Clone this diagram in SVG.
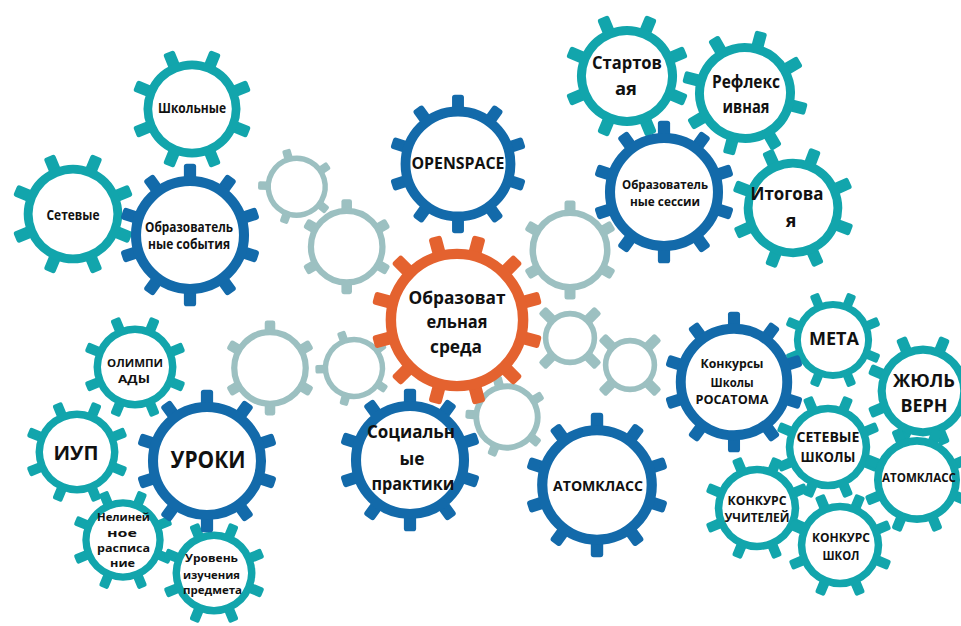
<svg xmlns="http://www.w3.org/2000/svg" xmlns:xlink="http://www.w3.org/1999/xlink" width="961" height="626" viewBox="0 0 961 626">
<style>
.t{font-family:"Open Sans","Liberation Sans","DejaVu Sans",sans-serif;font-weight:700;fill:#111;text-anchor:middle}
</style>
<defs>
<rect id="tB" x="-8.5" y="-99" width="17" height="30" rx="4"/>
<rect id="tT" x="-9.5" y="-99" width="19" height="30" rx="4"/>
<rect id="tG" x="-11" y="-99" width="22" height="32" rx="5"/>
<rect id="tG4" x="-13" y="-99" width="26" height="42" rx="6"/>
<rect id="tO" x="-7.5" y="-99" width="15" height="28" rx="3.5"/>
<g id="gBlue">
 <g fill="#136AAA">
  <use href="#tB"/><use href="#tB" transform="rotate(36)"/><use href="#tB" transform="rotate(72)"/><use href="#tB" transform="rotate(108)"/><use href="#tB" transform="rotate(144)"/>
  <use href="#tB" transform="rotate(180)"/><use href="#tB" transform="rotate(216)"/><use href="#tB" transform="rotate(252)"/><use href="#tB" transform="rotate(288)"/><use href="#tB" transform="rotate(324)"/>
 </g>
 <circle r="75" fill="#fff" stroke="#136AAA" stroke-width="14"/>
</g>
<g id="gTeal">
 <g fill="#12A5AC">
  <use href="#tT"/><use href="#tT" transform="rotate(45)"/><use href="#tT" transform="rotate(90)"/><use href="#tT" transform="rotate(135)"/>
  <use href="#tT" transform="rotate(180)"/><use href="#tT" transform="rotate(225)"/><use href="#tT" transform="rotate(270)"/><use href="#tT" transform="rotate(315)"/>
 </g>
 <circle r="71" fill="#fff" stroke="#12A5AC" stroke-width="14"/>
</g>
<g id="gGray6">
 <g fill="#9CC0C1">
  <use href="#tG"/><use href="#tG" transform="rotate(60)"/><use href="#tG" transform="rotate(120)"/><use href="#tG" transform="rotate(180)"/><use href="#tG" transform="rotate(240)"/><use href="#tG" transform="rotate(300)"/>
 </g>
 <circle r="74.5" fill="#fff" stroke="#9CC0C1" stroke-width="13"/>
</g>
<g id="gGray5">
 <g fill="#9CC0C1">
  <use href="#tG"/><use href="#tG" transform="rotate(72)"/><use href="#tG" transform="rotate(144)"/><use href="#tG" transform="rotate(216)"/><use href="#tG" transform="rotate(288)"/>
 </g>
 <circle r="73" fill="#fff" stroke="#9CC0C1" stroke-width="14"/>
</g>
<g id="gGray4">
 <g fill="#9CC0C1">
  <use href="#tG4" transform="rotate(45)"/><use href="#tG4" transform="rotate(135)"/><use href="#tG4" transform="rotate(225)"/><use href="#tG4" transform="rotate(315)"/>
 </g>
 <circle r="61" fill="#fff" stroke="#9CC0C1" stroke-width="14"/>
</g>
<g id="gOrange">
 <g fill="#E4622F">
  <use href="#tO" transform="rotate(15)"/><use href="#tO" transform="rotate(45)"/><use href="#tO" transform="rotate(75)"/><use href="#tO" transform="rotate(105)"/>
  <use href="#tO" transform="rotate(135)"/><use href="#tO" transform="rotate(165)"/><use href="#tO" transform="rotate(195)"/><use href="#tO" transform="rotate(225)"/>
  <use href="#tO" transform="rotate(255)"/><use href="#tO" transform="rotate(285)"/><use href="#tO" transform="rotate(315)"/><use href="#tO" transform="rotate(345)"/>
 </g>
 <circle r="76" fill="#fff" stroke="#E4622F" stroke-width="12"/>
</g>
</defs>

<g id="connectors"></g>

<!-- gray idle gears -->
<g id="gray1"><use href="#gGray5" transform="translate(296.7 186.7) rotate(-16) scale(0.39)"/></g>
<g id="gray2"><use href="#gGray6" transform="translate(346.7 246.7) scale(0.48)"/></g>
<g id="gray3"><use href="#gGray6" transform="translate(570 250) scale(0.50)"/></g>
<g id="gray4"><use href="#gGray4" transform="translate(570 338) scale(0.40)"/></g>
<g id="gray5"><use href="#gGray4" transform="translate(630 365) scale(0.40)"/></g>
<g id="gray6"><use href="#gGray6" transform="translate(270 368) scale(0.48)"/></g>
<g id="gray7"><use href="#gGray5" transform="translate(354 368) rotate(-20) scale(0.39)"/></g>
<g id="gray8"><use href="#gGray5" transform="translate(507 417) rotate(-14) scale(0.42)"/></g>

<!-- teal gears -->
<g id="shkolnye"><use href="#gTeal" transform="translate(192 109) rotate(22.5) scale(0.62)"/>
 <text class="t" x="192" y="113" font-size="14" textLength="68" lengthAdjust="spacingAndGlyphs">Школьные</text></g>
<g id="setevye"><use href="#gTeal" transform="translate(73 214) rotate(22.5) scale(0.63)"/>
 <text class="t" x="73" y="220" font-size="13.5" textLength="53" lengthAdjust="spacingAndGlyphs">Сетевые</text></g>
<g id="startovaya"><use href="#gTeal" transform="translate(627 76) rotate(22.5) scale(0.64)"/>
 <text class="t" x="627" y="69" font-size="18" textLength="70" lengthAdjust="spacingAndGlyphs">Стартов</text>
 <text class="t" x="626" y="95" font-size="18" textLength="22" lengthAdjust="spacingAndGlyphs">ая</text></g>
<g id="refleksivnaya"><use href="#gTeal" transform="translate(745 93) rotate(15) scale(0.64)"/>
 <text class="t" x="746" y="88" font-size="18" textLength="68" lengthAdjust="spacingAndGlyphs">Рефлекс</text>
 <text class="t" x="746" y="113" font-size="18" textLength="47" lengthAdjust="spacingAndGlyphs">ивная</text></g>
<g id="itogovaya"><use href="#gTeal" transform="translate(793 208) rotate(21) scale(0.63)"/>
 <text class="t" x="787" y="200" font-size="18" textLength="73" lengthAdjust="spacingAndGlyphs">Итогова</text>
 <text class="t" x="791" y="227" font-size="18">я</text></g>
<g id="meta"><use href="#gTeal" transform="translate(833 340) rotate(22.5) scale(0.50)"/>
 <text class="t" x="834" y="344.5" font-size="18" textLength="50" lengthAdjust="spacingAndGlyphs">МЕТА</text></g>
<g id="julverne"><use href="#gTeal" transform="translate(923 391) rotate(22.5) scale(0.58)"/>
 <text class="t" x="924" y="386.5" font-size="18" textLength="62" lengthAdjust="spacingAndGlyphs">ЖЮЛЬ</text>
 <text class="t" x="924" y="411.5" font-size="18" textLength="47" lengthAdjust="spacingAndGlyphs">ВЕРН</text></g>
<g id="setevye-shkoly"><use href="#gTeal" transform="translate(828 447) rotate(22.5) scale(0.54)"/>
 <text class="t" x="828" y="442" font-size="14" textLength="63" lengthAdjust="spacingAndGlyphs">СЕТЕВЫЕ</text>
 <text class="t" x="828" y="462" font-size="14" textLength="55" lengthAdjust="spacingAndGlyphs">ШКОЛЫ</text></g>
<g id="atomklass-teal"><use href="#gTeal" transform="translate(917 480) rotate(22.5) scale(0.55)"/>
 <text class="t" x="882" y="482" font-size="13" style="text-anchor:start" textLength="74" lengthAdjust="spacingAndGlyphs">АТОМКЛАСС</text></g>
<g id="konkurs-uchiteley"><use href="#gTeal" transform="translate(757 508) rotate(22.5) scale(0.54)"/>
 <text class="t" x="757" y="504.7" font-size="13" textLength="59" lengthAdjust="spacingAndGlyphs">КОНКУРС</text>
 <text class="t" x="757" y="521.7" font-size="13" textLength="65" lengthAdjust="spacingAndGlyphs">УЧИТЕЛЕЙ</text></g>
<g id="konkurs-shkol"><use href="#gTeal" transform="translate(840 545) rotate(22.5) scale(0.54)"/>
 <text class="t" x="841" y="542" font-size="13" textLength="58" lengthAdjust="spacingAndGlyphs">КОНКУРС</text>
 <text class="t" x="841" y="560" font-size="13" textLength="37" lengthAdjust="spacingAndGlyphs">ШКОЛ</text></g>
<g id="olimpiady"><use href="#gTeal" transform="translate(135 367) rotate(22.5) scale(0.53)"/>
 <text class="t" x="135" y="367" font-size="11" textLength="56" lengthAdjust="spacingAndGlyphs">ОЛИМПИ</text>
 <text class="t" x="134" y="383" font-size="11" textLength="32" lengthAdjust="spacingAndGlyphs">АДЫ</text></g>
<g id="iup"><use href="#gTeal" transform="translate(77 452) rotate(22.5) scale(0.53)"/>
 <text class="t" x="76" y="460" font-size="19" textLength="45" lengthAdjust="spacingAndGlyphs">ИУП</text></g>
<g id="nelineynoe"><use href="#gTeal" transform="translate(123 540) rotate(22.5) scale(0.52)"/>
 <text class="t" x="123.5" y="521" font-size="11" textLength="53" lengthAdjust="spacingAndGlyphs">Нелиней</text>
 <text class="t" x="122" y="537" font-size="11" textLength="30" lengthAdjust="spacingAndGlyphs">ное</text>
 <text class="t" x="123.5" y="552" font-size="11" textLength="53" lengthAdjust="spacingAndGlyphs">расписа</text>
 <text class="t" x="122.5" y="567" font-size="11" textLength="25" lengthAdjust="spacingAndGlyphs">ние</text></g>
<g id="uroven"><use href="#gTeal" transform="translate(214 573) rotate(22.5) scale(0.53)"/>
 <text class="t" x="211.5" y="562" font-size="11" textLength="53" lengthAdjust="spacingAndGlyphs">Уровень</text>
 <text class="t" x="211.5" y="579" font-size="11" textLength="57" lengthAdjust="spacingAndGlyphs">изучения</text>
 <text class="t" x="212.5" y="594" font-size="11" textLength="59" lengthAdjust="spacingAndGlyphs">предмета</text></g>

<!-- blue gears -->
<g id="openspace"><use href="#gBlue" transform="translate(458 164) scale(0.70)"/>
 <text class="t" x="458" y="169" font-size="16" textLength="93" lengthAdjust="spacingAndGlyphs">OPENSPACE</text></g>
<g id="obr-sobytiya"><use href="#gBlue" transform="translate(190 235) scale(0.72)"/>
 <text class="t" x="189" y="232" font-size="13.5" textLength="88" lengthAdjust="spacingAndGlyphs">Образователь</text>
 <text class="t" x="189" y="249" font-size="13.5" textLength="82" lengthAdjust="spacingAndGlyphs">ные события</text></g>
<g id="obr-sessii"><use href="#gBlue" transform="translate(664 192) scale(0.72)"/>
 <text class="t" x="665" y="189" font-size="13" textLength="86" lengthAdjust="spacingAndGlyphs">Образователь</text>
 <text class="t" x="665" y="206" font-size="13" textLength="70" lengthAdjust="spacingAndGlyphs">ные сессии</text></g>
<g id="konkursy-rosatom"><use href="#gBlue" transform="translate(734 382) scale(0.71)"/>
 <text class="t" x="732" y="368" font-size="13" textLength="63" lengthAdjust="spacingAndGlyphs">Конкурсы</text>
 <text class="t" x="732" y="387" font-size="13" textLength="43" lengthAdjust="spacingAndGlyphs">Школы</text>
 <text class="t" x="732" y="404" font-size="13" textLength="73" lengthAdjust="spacingAndGlyphs">РОСАТОМА</text></g>
<g id="atomklass"><use href="#gBlue" transform="translate(597 485) scale(0.73)"/>
 <text class="t" x="598" y="490.5" font-size="15" textLength="90" lengthAdjust="spacingAndGlyphs">АТОМКЛАСС</text></g>
<g id="socialnye"><use href="#gBlue" transform="translate(410 460) scale(0.72)"/>
 <text class="t" x="411" y="438" font-size="18" textLength="88" lengthAdjust="spacingAndGlyphs">Социальн</text>
 <text class="t" x="412" y="465" font-size="18" textLength="25" lengthAdjust="spacingAndGlyphs">ые</text>
 <text class="t" x="413" y="490" font-size="18" textLength="83" lengthAdjust="spacingAndGlyphs">практики</text></g>
<g id="uroki"><use href="#gBlue" transform="translate(207 461) scale(0.72)"/>
 <text class="t" x="208" y="468" font-size="23" textLength="75" lengthAdjust="spacingAndGlyphs">УРОКИ</text></g>

<!-- central orange gear -->
<g id="obr-sreda"><use href="#gOrange" transform="translate(457 320) scale(0.87)"/>
 <text class="t" x="457" y="304" font-size="18" textLength="97" lengthAdjust="spacingAndGlyphs">Образоват</text>
 <text class="t" x="457" y="328" font-size="18" textLength="61" lengthAdjust="spacingAndGlyphs">ельная</text>
 <text class="t" x="456" y="353" font-size="18" textLength="52" lengthAdjust="spacingAndGlyphs">среда</text></g>
</svg>
